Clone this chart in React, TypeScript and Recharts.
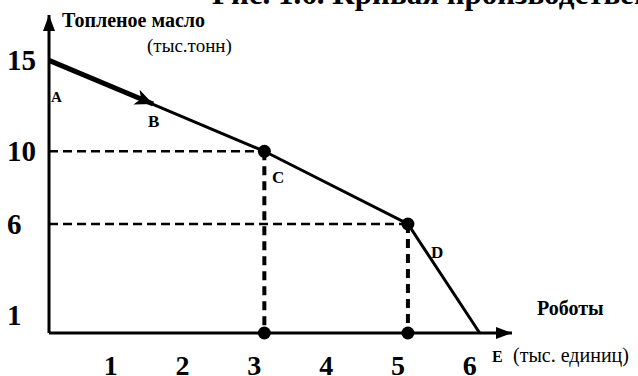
import { ComposedChart, Line, Scatter, XAxis, YAxis, ReferenceLine, ReferenceDot } from "recharts";

// production possibilities: robots (x) vs butter (y)
const frontier = [
  { x: 0, y: 15 },
  { x: 3, y: 10 },
  { x: 5, y: 6 },
  { x: 6, y: 0 },
];
// A -> B movement arrow along the first segment
const moveAB = [
  { x: 0, y: 15 },
  { x: 1.45, y: 12.6 },
];
const markedPoints = [
  { x: 3, y: 10 },
  { x: 5, y: 6 },
];
const axisPoints = [
  { x: 3, y: 0 },
  { x: 5, y: 0 },
];
const xTicks = [1, 2, 3, 4, 5, 6];
const yTicks = [1, 6, 10, 15];

const W = 638;
const H = 376;
const X_MAX = 6.45;
const Y_MAX = 17.5;
const M = { top: 15, right: 126, bottom: 0, left: 0 };
const Y_AXIS_W = 49;
const X_AXIS_H = 43;
const PLOT_W = W - M.left - M.right - Y_AXIS_W;
const PLOT_H = H - M.top - M.bottom - X_AXIS_H;

const SERIF = "Liberation Serif";

const YTick = ({ y, payload }: any) => (
  <text x={7} y={y + 10} fontFamily={SERIF} fontSize={29} fontWeight="bold" fill="#000">
    {payload.value}
  </text>
);

const XTick = ({ x, y, payload }: any) => (
  <text x={x - 10} y={y + 40} textAnchor="middle" fontFamily={SERIF} fontSize={28} fontWeight="bold" fill="#000">
    {payload.value}
  </text>
);

const BigDot = (p: any) => <circle cx={p.cx} cy={p.cy} r={6.5} fill="#000" />;

// arrowhead drawn at the last point of the A->B segment, pointing along it
const ArrowHead = (p: any) => {
  if (p.index !== moveAB.length - 1) return <g key={p.index} />;
  const a = moveAB[moveAB.length - 2];
  const b = moveAB[moveAB.length - 1];
  const ang = Math.atan2(-(b.y - a.y) * (PLOT_H / Y_MAX), (b.x - a.x) * (PLOT_W / X_MAX));
  const deg = (ang * 180) / Math.PI;
  return (
    <polygon
      key={p.index}
      points="0,0 -18,-8 -13,0 -18,8"
      fill="#000"
      transform={`translate(${p.cx},${p.cy}) rotate(${deg})`}
    />
  );
};

const ArrowRight = (p: any) => (
  <polygon points={`${p.cx},${p.cy} ${p.cx - 16},${p.cy - 6} ${p.cx - 16},${p.cy + 6}`} fill="#000" />
);
const ArrowUp = (p: any) => (
  <polygon points={`${p.cx},${p.cy} ${p.cx - 6},${p.cy + 16} ${p.cx + 6},${p.cy + 16}`} fill="#000" />
);

export default function App() {
  return (
    <div style={{ position: "absolute", left: 0, top: 0, width: W, height: H, background: "#fff" }}>
      <ComposedChart width={W} height={H} margin={M}>
        <XAxis
          type="number"
          dataKey="x"
          domain={[0, X_MAX]}
          ticks={xTicks}
          height={X_AXIS_H}
          tickLine={false}
          tickSize={0}
          tick={<XTick />}
          axisLine={{ stroke: "#000", strokeWidth: 3 }}
        />
        <YAxis
          type="number"
          dataKey="y"
          domain={[0, Y_MAX]}
          ticks={yTicks}
          width={Y_AXIS_W}
          tickLine={false}
          tickSize={0}
          tick={<YTick />}
          axisLine={{ stroke: "#000", strokeWidth: 3 }}
        />
        <ReferenceLine segment={[{ x: 0, y: 10 }, { x: 3, y: 10 }]} stroke="#000" strokeWidth={2.5} strokeDasharray="9 5" />
        <ReferenceLine segment={[{ x: 3, y: 10 }, { x: 3, y: 0 }]} stroke="#000" strokeWidth={4} strokeDasharray="9 6" />
        <ReferenceLine segment={[{ x: 0, y: 6 }, { x: 5, y: 6 }]} stroke="#000" strokeWidth={2.5} strokeDasharray="9 5" />
        <ReferenceLine segment={[{ x: 5, y: 6 }, { x: 5, y: 0 }]} stroke="#000" strokeWidth={4} strokeDasharray="9 6" />
        <Line data={frontier} dataKey="y" type="linear" stroke="#000" strokeWidth={3} dot={false} isAnimationActive={false} />
        <Line data={moveAB} dataKey="y" type="linear" stroke="#000" strokeWidth={5} dot={ArrowHead} isAnimationActive={false} />
        <Scatter data={markedPoints} dataKey="y" shape={BigDot} isAnimationActive={false} />
        <Scatter data={axisPoints} dataKey="y" shape={BigDot} isAnimationActive={false} />
        <ReferenceDot x={X_MAX} y={0} shape={ArrowRight} />
        <ReferenceDot x={0} y={Y_MAX} shape={ArrowUp} />
      </ComposedChart>
      <svg width={W} height={H} style={{ position: "absolute", left: 0, top: 0, pointerEvents: "none" }} fontFamily={SERIF} fill="#000">
        <text x={212} y={4} fontSize={31} fontWeight="bold">Рис. 1.6. Кривая производственных возможностей</text>
        <text x={62} y={27} fontSize={20} fontWeight="bold">Топленое масло</text>
        <text x={147} y={52} fontSize={19}>(тыс.тонн)</text>
        <text x={537} y={315} fontSize={20} fontWeight="bold">Роботы</text>
        <text x={492} y={362} fontSize={16} fontWeight="bold">E</text>
        <text x={513} y={362} fontSize={20}>(тыс. единиц)</text>
        <text x={51} y={102} fontSize={15} fontWeight="bold">A</text>
        <text x={148} y={127} fontSize={17} fontWeight="bold">B</text>
        <text x={272} y={183} fontSize={17} fontWeight="bold">C</text>
        <text x={431} y={258} fontSize={17} fontWeight="bold">D</text>
      </svg>
    </div>
  );
}
